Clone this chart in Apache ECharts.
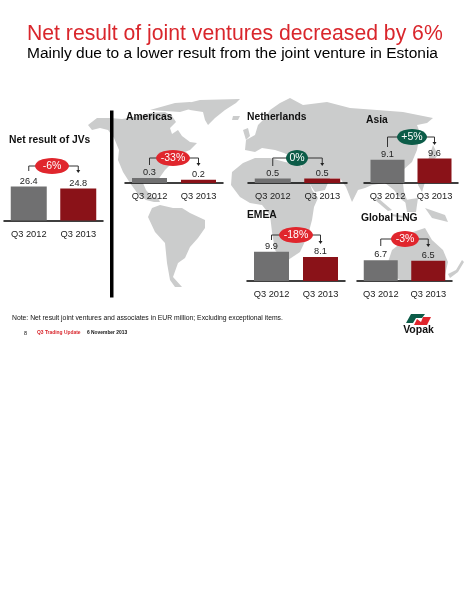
<!DOCTYPE html>
<html>
<head>
<meta charset="utf-8">
<style>html,body{margin:0;padding:0;background:#fff}#c{width:464px;height:600px}</style>
<script src="https://cdn.jsdelivr.net/npm/echarts@6/dist/echarts.min.js"></script>
</head>
<body>
<div id="c"></div>
<script>
// ---- data ----
const periods = ['Q3 2012', 'Q3 2013'];
const panelNames = ['Net result of JVs', 'Americas', 'Netherlands', 'Asia', 'EMEA', 'Global LNG'];
const jvs = [26.4, 24.8];
const americas = [0.3, 0.2];
const netherlands = [0.5, 0.5];
const asia = [9.1, 9.6];
const emea = [9.9, 8.1];
const lng = [6.7, 6.5];
const deltas = ['-6%', '-33%', '0%', '+5%', '-18%', '-3%'];
const seriesValues = [jvs, americas, netherlands, asia, emea, lng];

// ---- layout (not data) ----
const FONT = '"Liberation Sans", Arial, sans-serif';
const RED = '#e0262d', GREEN = '#0c5c48', GREY_BAR = '#707071', RED_BAR = '#8a1218';
const layout = [
  {left: 4,   width: 99, base: 220.5, h: 38.6, max: 30,  barW: 36, tx: 9,   ty: 140, brY: 166, l0: 171, r0: 173, ex: 52,  ew: 17},
  {left: 125, width: 98, base: 183,   h: 8.3,  max: 0.5, barW: 35, tx: 126, ty: 117, brY: 158, l0: 165, r0: 166, ex: 173, ew: 17},
  {left: 248, width: 99, base: 183,   h: 9,    max: 1,   barW: 36, tx: 247, ty: 117, brY: 158, l0: 166, r0: 166, ex: 297, ew: 11},
  {left: 364, width: 94, base: 183,   h: 25.5, max: 10,  barW: 34, tx: 366, ty: 120, brY: 137, l0: 147, r0: 145, ex: 412, ew: 15},
  {left: 247, width: 98, base: 281,   h: 29.5, max: 10,  barW: 35, tx: 247, ty: 215, brY: 235, l0: 240, r0: 244, ex: 296, ew: 17},
  {left: 357, width: 95, base: 281,   h: 31,   max: 10,  barW: 34, tx: 361, ty: 218, brY: 239, l0: 246, r0: 247, ex: 405, ew: 14}
];
// backdrop world map outline (decoration, page pixels)
const land = [
  [[88,125],[97,118],[110,118],[122,119],[135,117],[150,113],[165,112],[172,116],[176,122],[170,128],[172,134],[178,130],[182,136],[190,142],[197,143],[190,150],[182,153],[176,157],[170,165],[165,170],[160,177],[156,183],[150,182],[143,183],[146,190],[152,197],[158,198],[160,202],[154,202],[146,200],[138,194],[130,183],[123,172],[118,160],[119,150],[114,138],[108,130],[100,128],[92,130]],
  [[150,110],[175,103],[190,102],[200,106],[190,109],[180,112],[165,111]],
  [[180,105],[200,100],[240,99],[236,103],[225,110],[215,118],[208,125],[205,120],[203,112],[190,110]],
  [[148,217],[152,208],[160,205],[173,208],[182,208],[190,213],[205,220],[205,228],[198,238],[190,247],[185,258],[178,263],[173,277],[182,287],[175,287],[170,280],[167,263],[165,243],[155,232]],
  [[243,163],[255,158],[270,158],[285,162],[300,165],[307,175],[312,190],[318,198],[314,207],[312,220],[308,235],[300,252],[285,262],[275,250],[272,232],[270,215],[262,205],[250,203],[240,197],[231,185],[232,172]],
  [[245,150],[246,140],[255,135],[258,125],[265,118],[270,110],[280,103],[290,98],[303,105],[327,102],[350,108],[377,110],[403,112],[433,118],[427,123],[417,125],[420,133],[417,150],[412,162],[403,170],[403,183],[404,192],[409,205],[402,200],[394,190],[385,183],[372,185],[365,188],[358,190],[352,202],[346,187],[340,178],[330,178],[325,190],[315,192],[307,180],[301,165],[300,157],[290,156],[284,153],[275,150],[262,148],[255,152]],
  [[233,116],[240,116],[238,120],[232,120]],
  [[243,130],[248,128],[250,136],[246,140]],
  [[388,262],[392,250],[405,240],[413,232],[425,228],[432,240],[443,250],[448,262],[445,275],[430,280],[400,280],[388,272]],
  [[448,274],[456,270],[462,260],[464,262],[458,272],[450,278]],
  [[378,198],[392,210],[388,211],[375,200]],
  [[405,200],[418,198],[416,212],[407,212]],
  [[392,214],[410,217],[408,219],[392,216]],
  [[425,208],[445,215],[448,222],[432,218]],
  [[420,175],[425,182],[422,192],[418,185]],
  [[433,145],[438,155],[430,165],[422,170],[428,160]]
];

const grids = [], xAxes = [], yAxes = [], series = [], graphics = [];

land.forEach(pts => graphics.push({
  type: 'polygon', z: 0, silent: true,
  shape: {points: pts}, style: {fill: '#cbcccc'}
}));

layout.forEach((p, i) => {
  grids.push({left: p.left, width: p.width, top: p.base - p.h, height: p.h, containLabel: false});
  xAxes.push({
    type: 'category', gridIndex: i, data: periods,
    axisTick: {show: false},
    axisLine: {show: true, lineStyle: {color: '#000', width: 1.5}},
    axisLabel: {interval: 0, margin: 9, fontFamily: FONT, fontSize: 9.3, color: '#222'}
  });
  yAxes.push({type: 'value', gridIndex: i, min: 0, max: p.max, show: false});
  series.push({
    type: 'bar', xAxisIndex: i, yAxisIndex: i, barWidth: p.barW, z: 3,
    data: seriesValues[i].map((v, k) => ({value: v, itemStyle: {color: k ? RED_BAR : GREY_BAR}})),
    label: {show: true, position: 'top', distance: 1, fontFamily: FONT, fontSize: 9.2, color: '#222',
            formatter: o => o.value.toFixed(1)}
  });

  // panel title
  graphics.push({type: 'text', z: 20, x: p.tx, y: p.ty, style: {
    text: panelNames[i], font: 'bold 10.3px ' + FONT, fill: '#111', textVerticalAlign: 'middle'}});

  // change bracket, arrow, pill
  const xl = p.left + p.width / 4, xr = p.left + 3 * p.width / 4;
  graphics.push({type: 'polyline', z: 20, shape: {points: [[xl, p.l0], [xl, p.brY], [xr, p.brY], [xr, p.r0 - 2]]},
    style: {stroke: '#333', lineWidth: 1, fill: null}});
  graphics.push({type: 'polygon', z: 20, shape: {points: [[xr - 2, p.r0 - 3], [xr + 2, p.r0 - 3], [xr, p.r0]]},
    style: {fill: '#222'}});
  const col = deltas[i].charAt(0) === '-' ? RED : GREEN;
  graphics.push({type: 'ellipse', z: 21, shape: {cx: p.ex, cy: p.brY, rx: p.ew, ry: 8}, style: {fill: col}});
  graphics.push({type: 'text', z: 22, x: p.ex, y: p.brY, style: {
    text: deltas[i], font: '10.5px ' + FONT, fill: '#fff', textAlign: 'center', textVerticalAlign: 'middle'}});
});

// headline, divider, notes, logo
const addText = (text, x, y, font, fill) => graphics.push({type: 'text', z: 20, x, y,
  style: {text, font: font + ' ' + FONT, fill, textVerticalAlign: 'middle'}});
addText('Net result of joint ventures decreased by 6%', 27, 34, '21.2px', '#d9262c');
addText('Mainly due to a lower result from the joint venture in Estonia', 27, 54, '15.5px', '#000');
addText('Note: Net result joint ventures and associates in EUR million; Excluding exceptional items.', 12, 318, '6.8px', '#111');
addText('8', 24, 333, '5.5px', '#111');
addText('Q3 Trading Update', 37, 333, 'bold 4.9px', '#d9262c');
addText('6 November 2013', 87, 333, 'bold 4.9px', '#111');
graphics.push({type: 'rect', z: 20, shape: {x: 110, y: 110.5, width: 3.5, height: 187}, style: {fill: '#000'}});

graphics.push({type: 'polygon', z: 20, shape: {points: [[406,323],[411,314],[425,314],[422,318],[416,318],[413,323]]}, style: {fill: GREEN}});
graphics.push({type: 'polygon', z: 20, shape: {points: [[414,325],[417,319],[421,322],[423,317],[431,317],[427,325]]}, style: {fill: RED}});
graphics.push({type: 'text', z: 20, x: 418.5, y: 330.5, style: {
  text: 'Vopak', font: 'bold 10.5px ' + FONT, fill: '#111', textAlign: 'center', textVerticalAlign: 'middle'}});

const chart = echarts.init(document.getElementById('c'), null, {renderer: 'canvas'});
chart.setOption({
  animation: false, backgroundColor: '#fff',
  grid: grids, xAxis: xAxes, yAxis: yAxes, series,
  graphic: {elements: graphics}
});
</script>
</body>
</html>
